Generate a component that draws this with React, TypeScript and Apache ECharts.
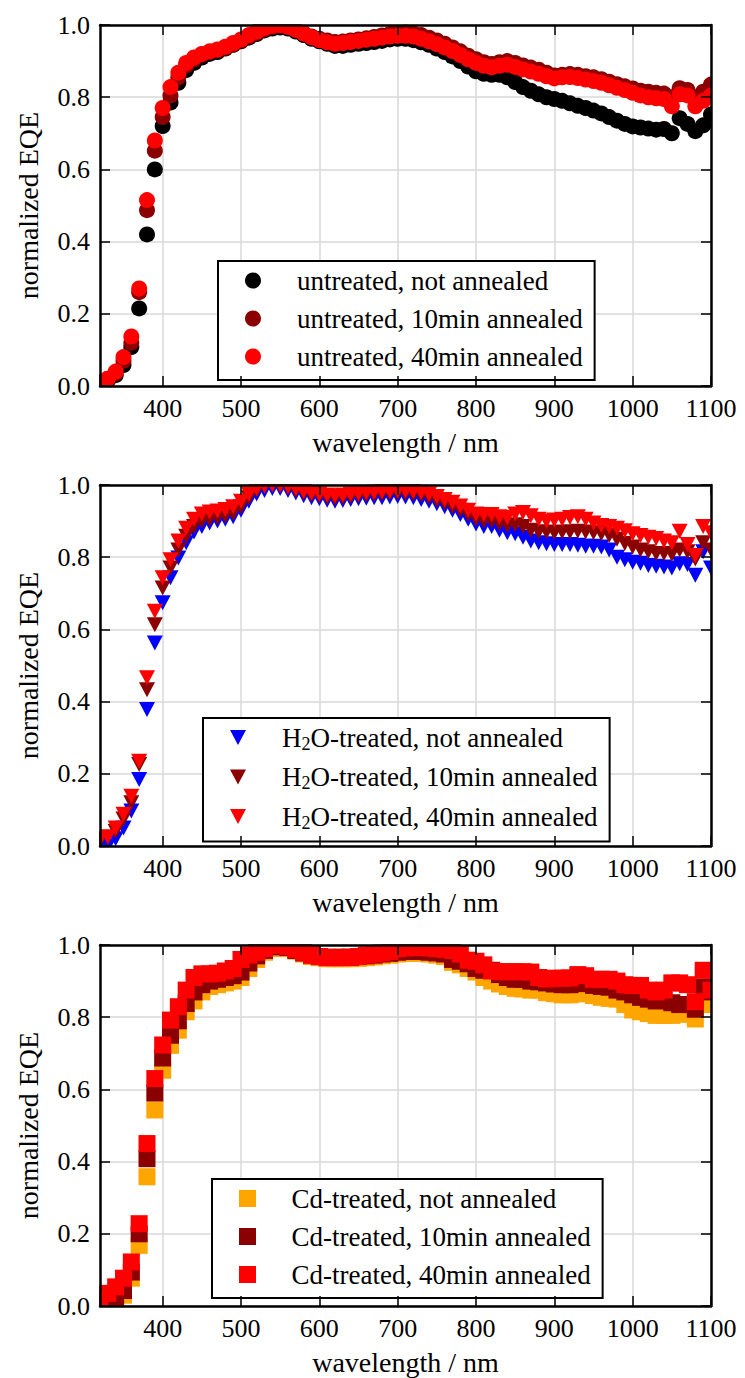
import React, { useEffect, useRef } from 'react';
import * as echarts from 'echarts';

// ---------- data ----------
const WAVELENGTHS = [
  320, 330, 340, 350, 360, 370, 380, 390, 400, 410,
  420, 430, 440, 450, 460, 470, 480, 490, 500, 510,
  520, 530, 540, 550, 560, 570, 580, 590, 600, 610,
  620, 630, 640, 650, 660, 670, 680, 690, 700, 710,
  720, 730, 740, 750, 760, 770, 780, 790, 800, 810,
  820, 830, 840, 850, 860, 870, 880, 890, 900, 910,
  920, 930, 940, 950, 960, 970, 980, 990, 1000, 1010,
  1020, 1030, 1040, 1050, 1060, 1070, 1080, 1090, 1100,
];

const X_TICKS = [400, 500, 600, 700, 800, 900, 1000, 1100];
const Y_TICKS = [0, 0.2, 0.4, 0.6, 0.8, 1.0];
const X_TITLE = 'wavelength / nm';
const Y_TITLE = 'normalized EQE';

const UNTREATED_NOT_ANNEALED = [
  0.010, 0.015, 0.030, 0.058, 0.108, 0.215, 0.420, 0.600, 0.720, 0.785,
  0.840, 0.875, 0.895, 0.910, 0.920, 0.925, 0.935, 0.945, 0.955, 0.965,
  0.975, 0.985, 0.990, 0.993, 0.990, 0.982, 0.972, 0.962, 0.955, 0.948,
  0.942, 0.942, 0.945, 0.948, 0.950, 0.953, 0.956, 0.960, 0.962, 0.962,
  0.958, 0.952, 0.945, 0.935, 0.925, 0.913, 0.900, 0.885, 0.872, 0.865,
  0.862, 0.862, 0.855, 0.842, 0.828, 0.818, 0.808, 0.800, 0.795, 0.790,
  0.783, 0.776, 0.770, 0.763, 0.755, 0.745, 0.735, 0.726, 0.719, 0.716,
  0.713, 0.710, 0.712, 0.700, 0.742, 0.726, 0.706, 0.722, 0.752,
];
const UNTREATED_10MIN = [
  0.010, 0.020, 0.035, 0.070, 0.120, 0.260, 0.487, 0.652, 0.745, 0.805,
  0.855, 0.888, 0.905, 0.918, 0.925, 0.930, 0.937, 0.946, 0.957, 0.968,
  0.978, 0.988, 0.995, 0.998, 0.994, 0.986, 0.977, 0.968, 0.962, 0.957,
  0.953, 0.954, 0.957, 0.960, 0.963, 0.967, 0.971, 0.975, 0.978, 0.979,
  0.977, 0.972, 0.965, 0.957, 0.948, 0.938, 0.927, 0.915, 0.905, 0.897,
  0.892, 0.897, 0.900, 0.895, 0.888, 0.882, 0.876, 0.868, 0.860, 0.862,
  0.864, 0.862, 0.858, 0.855, 0.850, 0.843, 0.836, 0.830, 0.824, 0.818,
  0.815, 0.812, 0.810, 0.800, 0.825, 0.820, 0.800, 0.815, 0.835,
];
const UNTREATED_40MIN = [
  0.010, 0.020, 0.040, 0.080, 0.137, 0.270, 0.515, 0.680, 0.770, 0.828,
  0.868, 0.895, 0.910, 0.920, 0.927, 0.932, 0.940, 0.950, 0.960, 0.972,
  0.982, 0.992, 0.998, 1.000, 0.995, 0.987, 0.976, 0.966, 0.958, 0.952,
  0.948, 0.950, 0.953, 0.956, 0.959, 0.962, 0.965, 0.968, 0.970, 0.970,
  0.968, 0.962, 0.955, 0.947, 0.938, 0.928, 0.917, 0.905, 0.895, 0.887,
  0.883, 0.887, 0.890, 0.884, 0.877, 0.871, 0.865, 0.858, 0.852, 0.855,
  0.856, 0.853, 0.849, 0.845, 0.840, 0.833, 0.826, 0.820, 0.812, 0.805,
  0.800, 0.797, 0.795, 0.775, 0.808, 0.805, 0.775, 0.790, 0.805,
];

const H2O_NOT_ANNEALED = [
  0.005, 0.000, 0.020, 0.050, 0.097, 0.184, 0.378, 0.562, 0.674, 0.743,
  0.798, 0.840, 0.870, 0.885, 0.895, 0.900, 0.905, 0.912, 0.930, 0.955,
  0.975, 0.985, 0.990, 0.990, 0.985, 0.978, 0.970, 0.965, 0.962, 0.958,
  0.955, 0.957, 0.960, 0.962, 0.963, 0.965, 0.965, 0.967, 0.968, 0.967,
  0.965, 0.960, 0.955, 0.948, 0.940, 0.930, 0.918, 0.905, 0.892, 0.885,
  0.885, 0.875, 0.868, 0.865, 0.855, 0.845, 0.840, 0.837, 0.835, 0.835,
  0.835, 0.833, 0.830, 0.830, 0.828, 0.820, 0.800, 0.793, 0.786, 0.783,
  0.777, 0.775, 0.773, 0.770, 0.782, 0.780, 0.750, 0.815, 0.770,
];
const H2O_10MIN = [
  0.015, 0.025, 0.040, 0.075, 0.120, 0.226, 0.433, 0.613, 0.715, 0.770,
  0.820, 0.858, 0.885, 0.900, 0.905, 0.910, 0.915, 0.922, 0.940, 0.965,
  0.985, 0.995, 1.000, 0.998, 0.992, 0.985, 0.978, 0.972, 0.970, 0.966,
  0.963, 0.965, 0.968, 0.970, 0.972, 0.974, 0.975, 0.977, 0.978, 0.977,
  0.975, 0.972, 0.966, 0.958, 0.950, 0.940, 0.930, 0.918, 0.906, 0.900,
  0.900, 0.893, 0.888, 0.890, 0.885, 0.875, 0.870, 0.870, 0.868, 0.870,
  0.870, 0.872, 0.870, 0.868, 0.865, 0.860, 0.850, 0.838, 0.828, 0.820,
  0.815, 0.810, 0.810, 0.808, 0.820, 0.815, 0.795, 0.840, 0.820,
];
const H2O_40MIN = [
  0.020, 0.025, 0.050, 0.088, 0.138, 0.235, 0.466, 0.650, 0.743, 0.793,
  0.845, 0.880, 0.905, 0.920, 0.925, 0.928, 0.932, 0.940, 0.955, 0.975,
  0.990, 0.998, 1.000, 1.000, 0.995, 0.990, 0.983, 0.978, 0.975, 0.972,
  0.970, 0.972, 0.975, 0.977, 0.979, 0.980, 0.982, 0.983, 0.985, 0.984,
  0.983, 0.980, 0.975, 0.968, 0.960, 0.952, 0.942, 0.930, 0.920, 0.918,
  0.918, 0.912, 0.910, 0.920, 0.924, 0.915, 0.905, 0.900, 0.903, 0.905,
  0.910, 0.912, 0.905, 0.895, 0.888, 0.885, 0.880, 0.873, 0.865, 0.860,
  0.855, 0.852, 0.845, 0.840, 0.872, 0.835, 0.805, 0.885, 0.868,
];

const CD_NOT_ANNEALED = [
  0.000, 0.000, 0.005, 0.030, 0.077, 0.168, 0.358, 0.543, 0.653, 0.722,
  0.764, 0.815, 0.845, 0.870, 0.885, 0.890, 0.895, 0.900, 0.910, 0.935,
  0.960, 0.980, 0.990, 0.995, 0.990, 0.983, 0.975, 0.968, 0.965, 0.962,
  0.962, 0.962, 0.962, 0.963, 0.965, 0.967, 0.970, 0.972, 0.975, 0.977,
  0.978, 0.977, 0.975, 0.972, 0.968, 0.952, 0.945, 0.935, 0.925, 0.910,
  0.900, 0.892, 0.885, 0.880, 0.878, 0.875, 0.875, 0.868, 0.865, 0.862,
  0.862, 0.865, 0.865, 0.860, 0.855, 0.852, 0.850, 0.835, 0.820, 0.815,
  0.810, 0.805, 0.805, 0.805, 0.812, 0.808, 0.795, 0.838, 0.835,
];
const CD_10MIN = [
  0.000, 0.005, 0.010, 0.043, 0.094, 0.200, 0.408, 0.590, 0.687, 0.750,
  0.790, 0.838, 0.870, 0.890, 0.900, 0.905, 0.910, 0.915, 0.925, 0.950,
  0.970, 0.985, 0.995, 0.998, 0.993, 0.985, 0.978, 0.972, 0.968, 0.966,
  0.966, 0.966, 0.966, 0.968, 0.970, 0.972, 0.975, 0.977, 0.980, 0.982,
  0.983, 0.982, 0.980, 0.978, 0.975, 0.960, 0.955, 0.948, 0.935, 0.930,
  0.930, 0.918, 0.910, 0.905, 0.905, 0.900, 0.898, 0.895, 0.892, 0.890,
  0.890, 0.895, 0.893, 0.888, 0.885, 0.883, 0.875, 0.870, 0.862, 0.855,
  0.850, 0.845, 0.846, 0.840, 0.835, 0.835, 0.822, 0.884, 0.870,
];
const CD_40MIN = [
  0.020, 0.035, 0.053, 0.077, 0.122, 0.228, 0.450, 0.630, 0.723, 0.792,
  0.829, 0.875, 0.910, 0.920, 0.920, 0.922, 0.928, 0.935, 0.960, 0.972,
  0.980, 0.990, 1.000, 1.000, 0.995, 0.988, 0.980, 0.972, 0.968, 0.965,
  0.965, 0.965, 0.966, 0.968, 0.972, 0.975, 0.978, 0.982, 0.990, 0.992,
  0.993, 0.993, 0.992, 0.990, 0.988, 0.985, 0.975, 0.958, 0.955, 0.945,
  0.928, 0.926, 0.926, 0.926, 0.926, 0.925, 0.910, 0.906, 0.908, 0.908,
  0.909, 0.918, 0.915, 0.905, 0.905, 0.905, 0.900, 0.890, 0.888, 0.888,
  0.875, 0.870, 0.875, 0.895, 0.895, 0.890, 0.843, 0.930, 0.875,
];

// ---------- styling / layout ----------
const FONT = 'Liberation Serif';
const TICK_FONT = '26px "Liberation Serif"';
const TITLE_FONT = '28px "Liberation Serif"';
const PLOT_LEFT = 100;
const PLOT_WIDTH = 611;
const PLOT_HEIGHT = 361;
const PANEL_TOPS = [25, 485, 945];
const GRID_COLOR = '#d9d9d9';

const TRIANGLE = 'path://M0,0L16,0L8,15Z';
const SQUARE = 'path://M0,0L10,0L10,10L0,10Z';

type SeriesDef = { name: string; color: string; values: number[] };
type PanelDef = {
  series: SeriesDef[];
  symbol: string;
  symbolSize: number | number[];
  legendIcon: string;
  legendItemHeight: number;
  legendPos: { left: number; top: number };
};

const PANELS: PanelDef[] = [
  {
    series: [
      { name: 'untreated, not annealed', color: '#000000', values: UNTREATED_NOT_ANNEALED },
      { name: 'untreated, 10min annealed', color: '#8b0000', values: UNTREATED_10MIN },
      { name: 'untreated, 40min annealed', color: '#ff0000', values: UNTREATED_40MIN },
    ],
    symbol: 'circle',
    symbolSize: 16,
    legendIcon: 'circle',
    legendItemHeight: 16,
    legendPos: { left: 218, top: 261 },
  },
  {
    series: [
      { name: 'H2O-treated, not annealed', color: '#0000ff', values: H2O_NOT_ANNEALED },
      { name: 'H2O-treated, 10min annealed', color: '#8b0000', values: H2O_10MIN },
      { name: 'H2O-treated, 40min annealed', color: '#ff0000', values: H2O_40MIN },
    ],
    symbol: TRIANGLE,
    symbolSize: [16, 15],
    legendIcon: TRIANGLE,
    legendItemHeight: 15,
    legendPos: { left: 203, top: 718 },
  },
  {
    series: [
      { name: 'Cd-treated, not annealed', color: '#ffa500', values: CD_NOT_ANNEALED },
      { name: 'Cd-treated, 10min annealed', color: '#8b0000', values: CD_10MIN },
      { name: 'Cd-treated, 40min annealed', color: '#ff0000', values: CD_40MIN },
    ],
    symbol: 'rect',
    symbolSize: 17,
    legendIcon: SQUARE,
    legendItemHeight: 17,
    legendPos: { left: 212, top: 1179 },
  },
];

function buildOption(): any {
  const grid: any[] = [];
  const xAxis: any[] = [];
  const yAxis: any[] = [];
  const series: any[] = [];
  const legend: any[] = [];

  PANELS.forEach((p, i) => {
    const top = PANEL_TOPS[i];
    grid.push({ left: PLOT_LEFT, top, width: PLOT_WIDTH, height: PLOT_HEIGHT, show: false });

    const xBase = { gridIndex: i, type: 'value', min: 320, max: 1100 };
    const frameLine = { show: true, onZero: false, lineStyle: { color: '#000', width: 2.5 } };
    const xTick = { show: true, inside: true, length: 10, customValues: X_TICKS, lineStyle: { color: '#000', width: 1.5 } };
    // bottom frame axis (its labels are drawn as serif texts at its own pixel positions)
    xAxis.push({ ...xBase, position: 'bottom', z: 10, axisLine: frameLine, axisTick: xTick, axisLabel: { show: false }, splitLine: { show: false } });
    // top frame axis
    xAxis.push({ ...xBase, position: 'top', z: 10, axisLine: frameLine, axisTick: xTick, axisLabel: { show: false }, splitLine: { show: false } });
    // grid-line axis (below markers)
    xAxis.push({
      ...xBase, position: 'bottom', z: 0,
      axisLine: { show: false },
      axisTick: { show: false, customValues: X_TICKS },
      axisLabel: { show: false, customValues: X_TICKS },
      splitLine: { show: true, lineStyle: { color: GRID_COLOR, width: 1.5 } },
    });

    const yBase = { gridIndex: i, type: 'value', min: 0, max: 1, interval: 0.2 };
    const yTick = { show: true, inside: true, length: 10, lineStyle: { color: '#000', width: 1.5 } };
    yAxis.push({ ...yBase, position: 'left', z: 10, axisLine: frameLine, axisTick: yTick, axisLabel: { show: false }, splitLine: { show: false } });
    yAxis.push({ ...yBase, position: 'right', z: 10, axisLine: frameLine, axisTick: yTick, axisLabel: { show: false }, splitLine: { show: false } });
    yAxis.push({
      ...yBase, position: 'left', z: 0,
      axisLine: { show: false }, axisTick: { show: false }, axisLabel: { show: false },
      splitLine: { show: true, lineStyle: { color: GRID_COLOR, width: 1.5 } },
    });

    p.series.forEach((s) => {
      series.push({
        type: 'scatter',
        name: s.name,
        xAxisIndex: i * 3,
        yAxisIndex: i * 3,
        symbol: p.symbol,
        symbolSize: p.symbolSize,
        itemStyle: { color: s.color, opacity: 1 },
        emphasis: { disabled: true },
        z: 2,
        data: WAVELENGTHS.map((w, j) => [w, s.values[j]]),
      });
    });

    legend.push({
      orient: 'vertical',
      left: p.legendPos.left,
      top: p.legendPos.top,
      padding: [6, 12, 10, 27],
      itemWidth: 40,
      itemHeight: p.legendItemHeight,
      itemGap: 11,
      borderColor: '#000',
      borderWidth: 2,
      borderRadius: 0,
      backgroundColor: '#ffffff',
      selectedMode: false,
      z: 4,
      data: p.series.map((s) => ({ name: s.name, icon: p.legendIcon })),
      formatter: (name: string) =>
        name.startsWith('H2O') ? `{n|H}{s|2}{n|${name.slice(2)}}` : name,
      textStyle: {
        fontFamily: FONT,
        fontSize: 27,
        color: '#000',
        padding: [0, 0, 0, 19],
        rich: {
          n: { fontFamily: FONT, fontSize: 27, color: '#000', lineHeight: 30 },
          s: { fontFamily: FONT, fontSize: 18, color: '#000', lineHeight: 18, verticalAlign: 'bottom' },
        },
      },
    });
  });

  return {
    animation: false,
    backgroundColor: '#ffffff',
    textStyle: { fontFamily: FONT, color: '#000' },
    grid,
    xAxis,
    yAxis,
    series,
    legend,
  };
}

function textEl(text: string, x: number, y: number, font: string, align: string, vAlign: string, rotation = 0): any {
  return {
    type: 'text',
    z: 20,
    silent: true,
    x,
    y,
    rotation,
    style: { text, font, fill: '#000', align, verticalAlign: vAlign, textAlign: align, textVerticalAlign: vAlign },
  };
}

// masks (outside frames, clip markers) + axis labels/titles placed with the axes' own scales
function buildGraphics(chart: any): any[] {
  const els: any[] = [];
  PANELS.forEach((_p, i) => {
    const top = PANEL_TOPS[i];
    const bottom = top + PLOT_HEIGHT;
    const right = PLOT_LEFT + PLOT_WIDTH;
    const m = 11;
    const maskStyle = { fill: '#ffffff' };
    els.push(
      { type: 'rect', z: 5, silent: true, shape: { x: PLOT_LEFT - m - 1, y: top - m, width: m, height: PLOT_HEIGHT + 2 * m }, style: maskStyle },
      { type: 'rect', z: 5, silent: true, shape: { x: right + 1, y: top - m, width: m, height: PLOT_HEIGHT + 2 * m }, style: maskStyle },
      { type: 'rect', z: 5, silent: true, shape: { x: PLOT_LEFT - m, y: top - m - 1, width: PLOT_WIDTH + 2 * m, height: m }, style: maskStyle },
      { type: 'rect', z: 5, silent: true, shape: { x: PLOT_LEFT - m, y: bottom + 1, width: PLOT_WIDTH + 2 * m, height: m }, style: maskStyle },
    );

    const xAxisIndex = i * 3;
    const yAxisIndex = i * 3;
    const axisBottom = chart.convertToPixel({ yAxisIndex }, 0);
    const axisLeft = chart.convertToPixel({ xAxisIndex }, 320);
    X_TICKS.forEach((v) => {
      const px = chart.convertToPixel({ xAxisIndex }, v);
      els.push(textEl(String(v), px, axisBottom + 9, TICK_FONT, 'center', 'top'));
    });
    Y_TICKS.forEach((v) => {
      const py = chart.convertToPixel({ yAxisIndex }, v);
      els.push(textEl(v.toFixed(1), axisLeft - 10, py, TICK_FONT, 'right', 'middle'));
    });
    const xMid = chart.convertToPixel({ xAxisIndex }, 710);
    const yMid = chart.convertToPixel({ yAxisIndex }, 0.5);
    els.push(textEl(X_TITLE, xMid, axisBottom + 42, TITLE_FONT, 'center', 'top'));
    els.push(textEl(Y_TITLE, axisLeft - 72, yMid, TITLE_FONT, 'center', 'middle', Math.PI / 2));
  });
  return els;
}

export default function App() {
  const ref = useRef<HTMLDivElement>(null);
  useEffect(() => {
    document.body.style.margin = '0';
    const chart = echarts.init(ref.current!, null, { renderer: 'svg' });
    chart.setOption(buildOption());
    chart.setOption({ graphic: { elements: buildGraphics(chart) } });
    return () => chart.dispose();
  }, []);
  return <div ref={ref} style={{ width: 745, height: 1378 }} />;
}
